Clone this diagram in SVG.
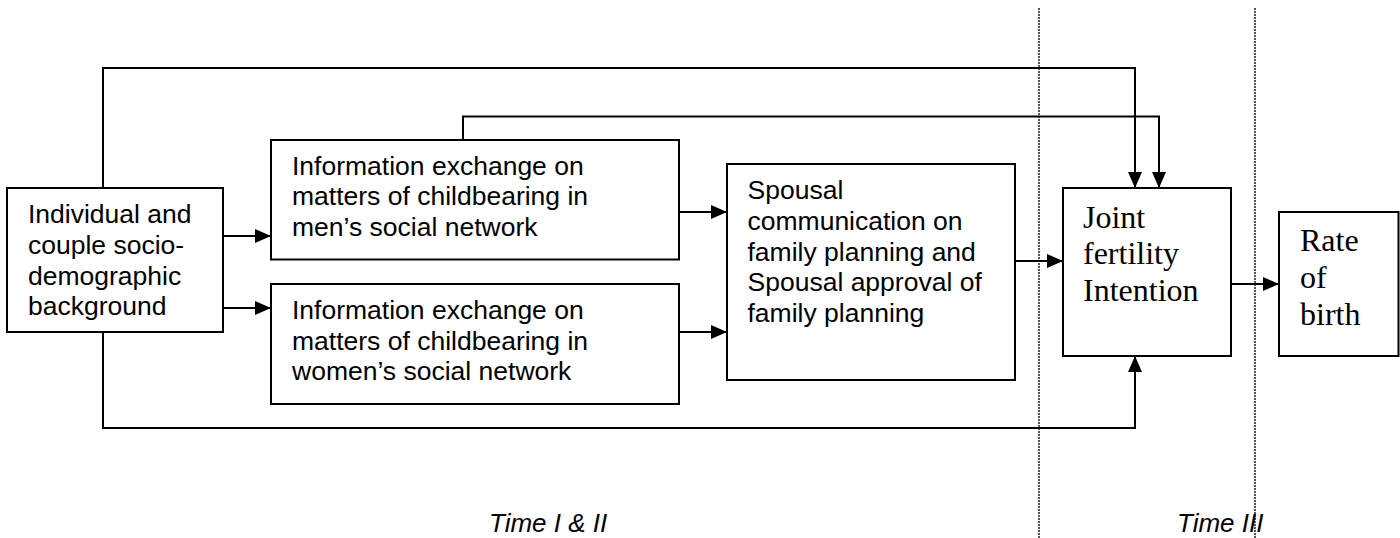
<svg xmlns="http://www.w3.org/2000/svg" width="1400" height="538" viewBox="0 0 1400 538">
<style>
.box{fill:#fff;stroke:#000;stroke-width:2}
.t{font-family:"Liberation Sans",Arial,sans-serif;font-size:26.5px;fill:#000}
.tr{font-family:"Liberation Serif","Times New Roman",serif;font-size:32px;fill:#000}
.ti{font-family:"Liberation Sans",Arial,sans-serif;font-size:26px;font-style:italic;fill:#000}
.c{fill:none;stroke:#000;stroke-width:2}
.d{fill:none;stroke:#555;stroke-width:2;stroke-dasharray:2 1}
</style>
<defs>
<marker id="ah" markerWidth="16" markerHeight="14" refX="16" refY="7" orient="auto" markerUnits="userSpaceOnUse">
<path d="M0,0 L16,7 L0,14 Z" fill="#000"/>
</marker>
</defs>
<rect width="1400" height="538" fill="#fff"/>
<g id="dividers">
<line class="d" x1="1039" y1="8" x2="1039" y2="538"/>
<line class="d" x1="1255" y1="8" x2="1255" y2="538"/>
</g>
<g id="connectors">
<polyline class="c" points="103,188 103,68 1135,68 1135,188" marker-end="url(#ah)"/>
<polyline class="c" points="463,140 463,116.5 1159,116.5 1159,188" marker-end="url(#ah)"/>
<polyline class="c" points="103,332 103,428 1135,428 1135,356" marker-end="url(#ah)"/>
<line class="c" x1="223" y1="236" x2="271" y2="236" marker-end="url(#ah)"/>
<line class="c" x1="223" y1="308" x2="271" y2="308" marker-end="url(#ah)"/>
<line class="c" x1="679" y1="212" x2="727" y2="212" marker-end="url(#ah)"/>
<line class="c" x1="679" y1="332" x2="727" y2="332" marker-end="url(#ah)"/>
<line class="c" x1="1015" y1="261" x2="1063" y2="261" marker-end="url(#ah)"/>
<line class="c" x1="1231" y1="284" x2="1279" y2="284" marker-end="url(#ah)"/>
</g>
<g id="background">
<rect class="box" x="7" y="188" width="216" height="144"/>
<text class="t" x="28" y="223">Individual and</text>
<text class="t" x="28" y="254">couple socio-</text>
<text class="t" x="28" y="284.5">demographic</text>
<text class="t" x="28" y="315">background</text>
</g>
<g id="men-network">
<rect class="box" x="271" y="140" width="408" height="119.5"/>
<text class="t" x="292" y="174.5">Information exchange on</text>
<text class="t" x="292" y="205">matters of childbearing in</text>
<text class="t" x="292" y="236">men’s social network</text>
</g>
<g id="women-network">
<rect class="box" x="271" y="284" width="408" height="120"/>
<text class="t" x="292" y="319">Information exchange on</text>
<text class="t" x="292" y="349.5">matters of childbearing in</text>
<text class="t" x="292" y="380">women’s social network</text>
</g>
<g id="spousal">
<rect class="box" x="727" y="164" width="288" height="216"/>
<text class="t" x="747.5" y="199">Spousal</text>
<text class="t" x="747.5" y="229.5">communication on</text>
<text class="t" x="747.5" y="260.5">family planning and</text>
<text class="t" x="747.5" y="291">Spousal approval of</text>
<text class="t" x="747.5" y="321.5">family planning</text>
</g>
<g id="joint">
<rect class="box" x="1063" y="188" width="168" height="168"/>
<text class="tr" x="1083" y="227.5">Joint</text>
<text class="tr" x="1083" y="264">fertility</text>
<text class="tr" x="1083" y="301">Intention</text>
</g>
<g id="rate">
<rect class="box" x="1279" y="212" width="119.5" height="144"/>
<text class="tr" x="1300" y="251">Rate</text>
<text class="tr" x="1300" y="288">of</text>
<text class="tr" x="1300" y="325">birth</text>
</g>
<g id="labels">
<text class="ti" x="489" y="532">Time I &amp; II</text>
<text class="ti" x="1177" y="532">Time III</text>
</g>
</svg>
